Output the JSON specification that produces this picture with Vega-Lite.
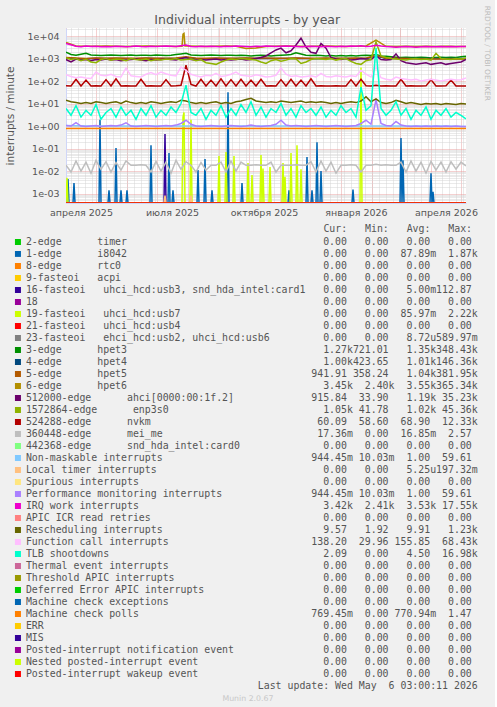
{
"$schema": "https://vega.github.io/schema/vega-lite/v6.json",
"background": "#F0F0F0",
"padding": {"left": 5, "top": 5, "right": 4, "bottom": 4},
"title": {"text": "Munin 2.0.67", "orient": "bottom", "anchor": "middle", "frame": "bounds", "font": "DejaVu Sans", "fontSize": 7.8, "fontWeight": "normal", "color": "#C8C8C8", "offset": 3},
"datasets": {"t": [
{"d":"2025-04-01","hpet3":1900,"hpet4":1050,"hpet5":1100,"hpet6":5200,"ahci":900,"enp3s0":1100,"nvkm":62,"mei":0.018,"nmi":1.05,"pmi":1.05,"iwi":4600,"res":14,"cal":190,"tlb":6,"mcp":0.78,"timer":0,"i8042":0,"rtc0":0,"acpi":0,"usb3":0,"irq18":0,"usb7":0,"usb4":0,"usb2":0,"card0":0,"loc":0,"spu":0,"rtr":0,"trm":0,"thr":0,"dfr":0,"mce":0,"err":0,"mis":0,"pin":0,"npi":0,"piw":0},
{"d":"2025-04-06","hpet3":1500,"ahci":700,"enp3s0":900,"nvkm":60,"mei":0.009,"pmi":1.0,"iwi":4100,"res":12,"cal":160,"tlb":3},
{"d":"2025-04-11","hpet3":1400,"hpet4":1000,"hpet5":1050,"hpet6":3600,"ahci":950,"enp3s0":1000,"nvkm":120,"mei":0.028,"pmi":1.4,"iwi":3500,"res":11,"cal":140,"tlb":8},
{"d":"2025-04-16","hpet3":1550,"ahci":850,"enp3s0":800,"nvkm":60,"mei":0.01,"pmi":1.0,"iwi":3300,"res":10,"cal":150,"tlb":2.5},
{"d":"2025-04-21","hpet3":1700,"hpet4":980,"hpet5":1000,"hpet6":3500,"nmi":1.0,"ahci":900,"enp3s0":950,"nvkm":110,"mei":0.025,"pmi":0.95,"iwi":3600,"res":11,"cal":135,"tlb":5},
{"d":"2025-04-26","hpet3":1450,"ahci":800,"enp3s0":700,"nvkm":60,"mei":0.008,"pmi":1.0,"iwi":3400,"res":10,"cal":130,"tlb":3},
{"d":"2025-05-01","hpet3":1400,"hpet4":1020,"hpet5":1060,"hpet6":3500,"ahci":900,"enp3s0":650,"nvkm":61,"mei":0.03,"pmi":1.05,"iwi":3500,"res":12,"cal":250,"tlb":9},
{"d":"2025-05-06","hpet3":1350,"ahci":850,"enp3s0":900,"nvkm":60,"mei":0.012,"pmi":0.95,"iwi":3300,"res":11,"cal":180,"tlb":2},
{"d":"2025-05-11","hpet3":1400,"hpet4":990,"hpet5":1030,"hpet6":3600,"nmi":1.0,"ahci":950,"enp3s0":1000,"nvkm":115,"mei":0.026,"pmi":1.0,"iwi":3400,"res":10,"cal":170,"tlb":4},
{"d":"2025-05-16","hpet3":1450,"ahci":850,"enp3s0":850,"nvkm":60,"mei":0.009,"pmi":1.05,"iwi":3300,"res":11,"cal":200,"tlb":6},
{"d":"2025-05-21","hpet3":1400,"hpet4":1010,"hpet5":1050,"hpet6":3500,"mcp":0.78,"ahci":900,"enp3s0":950,"nvkm":125,"mei":0.024,"pmi":1.0,"iwi":3500,"res":12,"cal":160,"tlb":2.5},
{"d":"2025-05-26","hpet3":1350,"ahci":800,"enp3s0":900,"nvkm":60,"mei":0.011,"pmi":1.1,"iwi":3400,"res":10,"cal":150,"tlb":7},
{"d":"2025-05-31","hpet3":1400,"hpet4":1000,"hpet5":1040,"hpet6":3400,"nmi":1.0,"ahci":850,"enp3s0":800,"nvkm":61,"mei":0.028,"pmi":1.4,"iwi":3300,"res":13,"cal":380,"tlb":3},
{"d":"2025-06-05","hpet3":1450,"ahci":900,"enp3s0":1000,"nvkm":60,"mei":0.018,"pmi":1.0,"iwi":3400,"res":11,"cal":170,"tlb":5},
{"d":"2025-06-10","hpet3":1350,"hpet4":980,"hpet5":1020,"hpet6":3500,"ahci":950,"enp3s0":900,"nvkm":60,"mei":0.018,"pmi":0.95,"iwi":3600,"res":10,"cal":160,"tlb":2},
{"d":"2025-06-15","hpet3":1400,"ahci":850,"enp3s0":850,"nvkm":120,"mei":0.019,"pmi":1.0,"iwi":3400,"res":11,"cal":150,"tlb":6},
{"d":"2025-06-20","hpet3":1400,"hpet4":1020,"hpet5":1060,"hpet6":3600,"nmi":1.0,"ahci":800,"enp3s0":950,"nvkm":60,"mei":0.018,"pmi":1.05,"iwi":3300,"res":10,"cal":200,"tlb":3},
{"d":"2025-06-25","hpet3":1350,"ahci":900,"enp3s0":800,"nvkm":61,"mei":0.009,"pmi":1.0,"iwi":3500,"res":12,"cal":240,"tlb":8},
{"d":"2025-06-30","hpet3":1450,"hpet4":1000,"hpet5":1040,"hpet6":3500,"ahci":850,"enp3s0":900,"nvkm":60,"mei":0.027,"pmi":0.95,"iwi":3400,"res":11,"cal":190,"tlb":2.5},
{"d":"2025-07-05","hpet3":1400,"ahci":900,"enp3s0":850,"nvkm":60,"mei":0.01,"pmi":1.0,"iwi":3500,"res":10,"cal":250,"tlb":5},
{"d":"2025-07-10","hpet3":1350,"hpet4":990,"hpet5":1030,"hpet6":3500,"nmi":1.0,"mcp":0.78,"ahci":950,"enp3s0":950,"nvkm":115,"mei":0.025,"pmi":1.05,"iwi":3600,"res":11,"cal":210,"tlb":3},
{"d":"2025-07-15","hpet3":1400,"ahci":900,"enp3s0":900,"nvkm":60,"mei":0.008,"pmi":1.0,"iwi":3500,"res":12,"cal":180,"tlb":7},
{"d":"2025-07-20","hpet3":1500,"hpet4":1010,"hpet5":1050,"hpet6":3400,"ahci":850,"enp3s0":1000,"nvkm":61,"mei":0.03,"pmi":1.1,"iwi":3400,"res":11,"cal":170,"tlb":4},
{"d":"2025-07-25","hpet3":1600,"ahci":1000,"enp3s0":850,"nvkm":65,"mei":0.012,"pmi":1.3,"iwi":3700,"res":14,"cal":420,"tlb":10},
{"d":"2025-07-30","hpet3":1700,"hpet4":1100,"hpet5":1200,"hpet6":3600,"nmi":1.0,"ahci":1100,"enp3s0":900,"nvkm":500,"mei":0.026,"pmi":1.8,"iwi":4000,"res":13,"cal":300,"tlb":66},
{"d":"2025-08-04","hpet3":1450,"ahci":900,"enp3s0":950,"nvkm":70,"mei":0.018,"pmi":1.2,"iwi":3400,"res":11,"cal":200,"tlb":4},
{"d":"2025-08-09","hpet3":1400,"hpet4":1000,"hpet5":1040,"hpet6":3500,"ahci":850,"enp3s0":800,"nvkm":60,"mei":0.009,"pmi":1.0,"iwi":3300,"res":10,"cal":170,"tlb":3},
{"d":"2025-08-14","hpet3":1350,"ahci":900,"enp3s0":900,"nvkm":120,"mei":0.024,"pmi":0.95,"iwi":3500,"res":11,"cal":150,"tlb":6},
{"d":"2025-08-19","hpet3":1400,"hpet4":980,"hpet5":1020,"hpet6":3400,"nmi":1.0,"ahci":850,"enp3s0":650,"nvkm":60,"mei":0.011,"pmi":1.0,"iwi":3400,"res":10,"cal":180,"tlb":2},
{"d":"2025-08-24","hpet3":1450,"ahci":900,"enp3s0":600,"nvkm":110,"mei":0.018,"pmi":1.05,"iwi":3500,"res":11,"cal":170,"tlb":5},
{"d":"2025-08-29","hpet3":1400,"hpet4":1010,"hpet5":1050,"hpet6":3500,"mcp":0.78,"ahci":950,"enp3s0":550,"nvkm":60,"mei":0.018,"pmi":1.0,"iwi":3400,"res":12,"cal":220,"tlb":3},
{"d":"2025-09-03","hpet3":1350,"ahci":850,"enp3s0":700,"nvkm":125,"mei":0.025,"pmi":0.95,"iwi":3300,"res":10,"cal":160,"tlb":8},
{"d":"2025-09-08","hpet3":1400,"hpet4":1000,"hpet5":1040,"hpet6":3600,"nmi":1.0,"ahci":900,"enp3s0":850,"nvkm":60,"mei":0.009,"pmi":1.0,"iwi":3500,"res":11,"cal":170,"tlb":2.5},
{"d":"2025-09-13","hpet3":1400,"ahci":850,"enp3s0":950,"nvkm":115,"mei":0.028,"pmi":1.05,"iwi":3400,"res":10,"cal":200,"tlb":6},
{"d":"2025-09-18","hpet3":1350,"hpet4":990,"hpet5":1030,"hpet6":3500,"ahci":900,"enp3s0":900,"nvkm":60,"mei":0.01,"pmi":1.0,"iwi":3600,"res":12,"cal":250,"tlb":3},
{"d":"2025-09-23","hpet3":1400,"ahci":950,"enp3s0":1000,"nvkm":120,"mei":0.025,"pmi":0.95,"iwi":3500,"res":13,"cal":180,"tlb":9},
{"d":"2025-09-28","hpet3":1350,"hpet4":1020,"hpet5":1060,"hpet6":2800,"nmi":1.0,"ahci":850,"enp3s0":950,"nvkm":60,"mei":0.018,"pmi":1.0,"iwi":3400,"res":15,"cal":170,"tlb":4},
{"d":"2025-10-03","hpet3":1300,"ahci":900,"enp3s0":900,"nvkm":110,"mei":0.018,"pmi":1.1,"iwi":3300,"res":17,"cal":160,"tlb":12},
{"d":"2025-10-08","hpet3":1350,"hpet4":1000,"hpet5":1040,"hpet6":2900,"ahci":1000,"enp3s0":850,"nvkm":60,"mei":0.019,"pmi":1.0,"iwi":3500,"res":13,"cal":190,"tlb":3},
{"d":"2025-10-13","hpet3":1400,"ahci":1100,"enp3s0":700,"nvkm":120,"mei":0.018,"pmi":0.95,"iwi":3400,"res":12,"cal":170,"tlb":7},
{"d":"2025-10-18","hpet3":1350,"hpet4":1010,"hpet5":1050,"hpet6":3400,"nmi":1.0,"mcp":0.78,"ahci":1300,"enp3s0":600,"nvkm":60,"mei":0.018,"pmi":1.0,"iwi":3600,"res":11,"cal":150,"tlb":2.5},
{"d":"2025-10-23","hpet3":1300,"ahci":1800,"enp3s0":800,"nvkm":61,"mei":0.025,"pmi":1.05,"iwi":3500,"res":12,"cal":160,"tlb":6},
{"d":"2025-10-28","hpet3":1350,"hpet4":1000,"hpet5":1040,"hpet6":3500,"ahci":2400,"enp3s0":900,"nvkm":60,"mei":0.009,"pmi":1.2,"iwi":3400,"res":11,"cal":180,"tlb":4},
{"d":"2025-11-02","hpet3":1400,"ahci":2900,"enp3s0":750,"nvkm":115,"mei":0.018,"pmi":1.8,"iwi":3500,"res":13,"cal":380,"tlb":10},
{"d":"2025-11-07","hpet3":1450,"hpet4":990,"hpet5":1030,"hpet6":3600,"nmi":1.0,"ahci":1800,"enp3s0":850,"nvkm":60,"mei":0.018,"pmi":1.1,"iwi":3600,"res":12,"cal":200,"tlb":3},
{"d":"2025-11-12","hpet3":1500,"ahci":2200,"enp3s0":1000,"nvkm":120,"mei":0.018,"pmi":1.0,"iwi":3500,"res":11,"cal":160,"tlb":6},
{"d":"2025-11-17","hpet3":1800,"hpet4":1020,"hpet5":1060,"hpet6":3500,"ahci":4000,"enp3s0":950,"nvkm":60,"mei":0.019,"pmi":1.05,"iwi":3400,"res":12,"cal":170,"tlb":2.5},
{"d":"2025-11-22","hpet3":1600,"ahci":8000,"enp3s0":600,"nvkm":110,"mei":0.018,"pmi":1.0,"iwi":3300,"res":13,"cal":150,"tlb":8},
{"d":"2025-11-27","hpet3":1400,"hpet4":1000,"hpet5":1040,"hpet6":3400,"nmi":1.0,"ahci":3200,"enp3s0":700,"nvkm":60,"mei":0.018,"pmi":0.95,"iwi":3400,"res":11,"cal":160,"tlb":4},
{"d":"2025-12-02","hpet3":1350,"ahci":1900,"enp3s0":900,"nvkm":125,"mei":0.026,"pmi":1.0,"iwi":3500,"res":12,"cal":170,"tlb":6},
{"d":"2025-12-07","hpet3":1400,"hpet4":980,"hpet5":1020,"hpet6":3500,"mcp":0.78,"ahci":1700,"enp3s0":1000,"nvkm":60,"mei":0.009,"pmi":1.05,"iwi":3400,"res":11,"cal":150,"tlb":3},
{"d":"2025-12-12","hpet3":1350,"ahci":4700,"enp3s0":950,"nvkm":61,"mei":0.028,"pmi":1.0,"iwi":3300,"res":12,"cal":220,"tlb":7},
{"d":"2025-12-17","hpet3":1300,"hpet4":1010,"hpet5":1050,"hpet6":3600,"nmi":1.0,"ahci":2900,"enp3s0":900,"nvkm":60,"mei":0.01,"pmi":0.95,"iwi":3500,"res":11,"cal":160,"tlb":2.5},
{"d":"2025-12-22","hpet3":1350,"ahci":1100,"enp3s0":1000,"nvkm":60,"mei":0.025,"pmi":1.0,"iwi":3400,"res":10,"cal":150,"tlb":5},
{"d":"2025-12-27","hpet3":1300,"hpet4":1000,"hpet5":1040,"hpet6":3500,"ahci":950,"enp3s0":850,"nvkm":61,"mei":0.008,"pmi":1.05,"iwi":3300,"res":11,"cal":170,"tlb":3},
{"d":"2026-01-01","hpet3":1350,"ahci":900,"enp3s0":950,"nvkm":60,"mei":0.018,"pmi":1.0,"iwi":3500,"res":10,"cal":160,"tlb":8},
{"d":"2026-01-06","hpet3":1300,"hpet4":990,"hpet5":1030,"hpet6":3400,"nmi":1.0,"ahci":1000,"enp3s0":1000,"nvkm":60,"mei":0.018,"pmi":0.95,"iwi":3400,"res":11,"cal":150,"tlb":4},
{"d":"2026-01-11","hpet3":1350,"ahci":850,"enp3s0":750,"nvkm":115,"mei":0.019,"pmi":1.0,"iwi":3600,"res":12,"cal":170,"tlb":6},
{"d":"2026-01-16","hpet3":1300,"hpet4":1010,"hpet5":1050,"hpet6":3500,"ahci":900,"enp3s0":600,"nvkm":60,"mei":0.018,"pmi":1.05,"iwi":3500,"res":11,"cal":160,"tlb":2.5},
{"d":"2026-01-21","hpet3":1350,"ahci":1000,"enp3s0":550,"nvkm":120,"mei":0.009,"pmi":1.3,"iwi":3700,"res":13,"cal":300,"tlb":54},
{"d":"2026-01-26","hpet3":1400,"hpet4":1000,"hpet5":1040,"hpet6":3600,"nmi":1.0,"mcp":0.78,"ahci":950,"enp3s0":800,"nvkm":62,"mei":0.018,"pmi":1.8,"iwi":3400,"res":20,"cal":200,"tlb":5},
{"d":"2026-01-31","hpet3":1350,"ahci":900,"enp3s0":900,"nvkm":60,"mei":0.018,"pmi":1.2,"iwi":3500,"res":12,"cal":150,"tlb":8},
{"d":"2026-02-05","hpet3":1500,"hpet4":1300,"hpet5":1400,"hpet6":6500,"ahci":1300,"enp3s0":5400,"nvkm":65,"mei":0.02,"pmi":15,"iwi":3900,"res":16,"cal":420,"tlb":3000},
{"d":"2026-02-10","hpet3":1300,"ahci":900,"enp3s0":1300,"nvkm":60,"mei":0.018,"pmi":1.3,"iwi":3600,"res":11,"cal":140,"tlb":6},
{"d":"2026-02-15","hpet3":1250,"hpet4":1000,"hpet5":1040,"hpet6":3500,"nmi":1.0,"ahci":850,"enp3s0":1100,"nvkm":61,"mei":0.019,"pmi":1.05,"iwi":3400,"res":10,"cal":120,"tlb":3},
{"d":"2026-02-20","hpet3":1200,"ahci":900,"enp3s0":1000,"nvkm":60,"mei":0.018,"pmi":1.0,"iwi":3300,"res":11,"cal":110,"tlb":5},
{"d":"2026-02-25","hpet3":1150,"hpet4":990,"hpet5":1030,"hpet6":3400,"ahci":1600,"enp3s0":950,"nvkm":60,"mei":0.018,"pmi":1.6,"iwi":3200,"res":14,"cal":150,"tlb":12},
{"d":"2026-03-02","hpet3":1100,"ahci":800,"enp3s0":900,"nvkm":120,"mei":0.025,"pmi":1.1,"iwi":3300,"res":12,"cal":130,"tlb":3},
{"d":"2026-03-07","hpet3":1150,"hpet4":1000,"hpet5":1000,"hpet6":3500,"nmi":1.0,"ahci":650,"enp3s0":850,"nvkm":60,"mei":0.009,"pmi":1.0,"iwi":3400,"res":10,"cal":120,"tlb":6},
{"d":"2026-03-12","hpet3":1100,"ahci":600,"enp3s0":950,"nvkm":61,"mei":0.028,"pmi":0.95,"iwi":3300,"res":11,"cal":110,"tlb":2},
{"d":"2026-03-17","hpet3":1100,"hpet4":1010,"hpet5":980,"hpet6":3400,"mcp":0.78,"ahci":550,"enp3s0":1000,"nvkm":60,"mei":0.01,"pmi":1.0,"iwi":3200,"res":10,"cal":120,"tlb":5},
{"d":"2026-03-22","hpet3":1150,"ahci":600,"enp3s0":900,"nvkm":60,"mei":0.025,"pmi":0.95,"iwi":3300,"res":9,"cal":100,"tlb":3},
{"d":"2026-03-27","hpet3":1100,"hpet4":990,"hpet5":960,"hpet6":3500,"nmi":1.0,"ahci":650,"enp3s0":950,"nvkm":61,"mei":0.008,"pmi":1.0,"iwi":3400,"res":10,"cal":110,"tlb":7},
{"d":"2026-04-01","hpet3":1050,"ahci":550,"enp3s0":850,"nvkm":115,"mei":0.027,"pmi":0.95,"iwi":3300,"res":9.5,"cal":120,"tlb":2},
{"d":"2026-04-06","hpet3":1100,"hpet4":1000,"hpet5":950,"hpet6":3400,"ahci":600,"enp3s0":1700,"nvkm":60,"mei":0.011,"pmi":1.0,"iwi":3300,"res":10,"cal":110,"tlb":5},
{"d":"2026-04-11","hpet3":1150,"ahci":650,"enp3s0":1000,"nvkm":60,"mei":0.025,"pmi":0.95,"iwi":3400,"res":9,"cal":100,"tlb":3},
{"d":"2026-04-16","hpet3":1100,"hpet4":1010,"hpet5":940,"hpet6":3500,"nmi":1.0,"ahci":550,"enp3s0":950,"nvkm":61,"mei":0.009,"pmi":1.0,"iwi":3300,"res":10,"cal":110,"tlb":6},
{"d":"2026-04-21","hpet3":1150,"ahci":600,"enp3s0":900,"nvkm":110,"mei":0.026,"pmi":0.95,"iwi":3400,"res":9.5,"cal":120,"tlb":2.5},
{"d":"2026-04-26","hpet3":1100,"hpet4":990,"hpet5":950,"hpet6":3400,"ahci":650,"enp3s0":1000,"nvkm":60,"mei":0.012,"pmi":1.0,"iwi":3300,"res":9,"cal":110,"tlb":4},
{"d":"2026-05-01","hpet3":1200,"ahci":700,"enp3s0":950,"nvkm":60,"mei":0.025,"pmi":0.95,"iwi":3400,"res":10,"cal":115,"tlb":3},
{"d":"2026-05-06","hpet3":1270,"hpet4":1000,"hpet5":942,"hpet6":3450,"nmi":0.944,"mcp":0.769,"ahci":916,"enp3s0":1050,"nvkm":60,"mei":0.017,"pmi":0.944,"iwi":3420,"res":9.6,"cal":138,"tlb":2.09,"timer":0,"i8042":0,"rtc0":0,"acpi":0,"usb3":0,"irq18":0,"usb7":0,"usb4":0,"usb2":0,"card0":0,"loc":0,"spu":0,"rtr":0,"trm":0,"thr":0,"dfr":0,"mce":0,"err":0,"mis":0,"pin":0,"npi":0,"piw":0},
{"d":"2025-07-26","hpet6":3500,"usb7":0},
{"d":"2025-07-27","hpet6":12000,"usb7":2.5},
{"d":"2025-07-28","hpet6":13000,"usb7":4},
{"d":"2025-07-29","hpet6":3600,"usb7":0},
{"d":"2025-04-02","i8042":0,"usb7":0.005},
{"d":"2025-04-03","i8042":0.0044,"usb7":0},
{"d":"2025-04-04","i8042":0},
{"d":"2025-04-08","i8042":0},
{"d":"2025-04-09","i8042":0.0029},
{"d":"2025-04-10","i8042":0},
{"d":"2025-05-04","i8042":0},
{"d":"2025-05-05","i8042":1.9},
{"d":"2025-05-06","i8042":0},
{"d":"2025-05-13","i8042":0},
{"d":"2025-05-14","i8042":0.0014},
{"d":"2025-05-15","i8042":0},
{"d":"2025-05-20","i8042":0},
{"d":"2025-05-21","i8042":0.105},
{"d":"2025-05-22","i8042":0},
{"d":"2025-05-25","i8042":0},
{"d":"2025-05-26","i8042":0.0014},
{"d":"2025-05-27","i8042":0},
{"d":"2025-05-31","i8042":0},
{"d":"2025-06-01","i8042":0.0014},
{"d":"2025-06-02","i8042":0},
{"d":"2025-06-24","i8042":0},
{"d":"2025-06-25","i8042":0.14},
{"d":"2025-06-26","i8042":0},
{"d":"2025-07-08","usb3":0,"loc":0},
{"d":"2025-07-09","usb3":0.44,"loc":0.0008},
{"d":"2025-07-10","usb3":0,"loc":0},
{"d":"2025-07-12","i8042":0},
{"d":"2025-07-13","i8042":0.063},
{"d":"2025-07-14","i8042":0},
{"d":"2025-07-16","i8042":0},
{"d":"2025-07-17","i8042":0.0014},
{"d":"2025-07-18","i8042":0},
{"d":"2025-08-03","usb7":0,"loc":0},
{"d":"2025-08-04","usb7":1.9,"loc":0.0008},
{"d":"2025-08-05","usb7":0,"loc":0},
{"d":"2025-08-10","i8042":0},
{"d":"2025-08-11","i8042":0.011},
{"d":"2025-08-12","i8042":0},
{"d":"2025-08-17","i8042":0},
{"d":"2025-08-18","i8042":0.034},
{"d":"2025-08-19","i8042":0},
{"d":"2025-08-24","i8042":0},
{"d":"2025-08-25","i8042":0.0014},
{"d":"2025-08-26","i8042":0},
{"d":"2025-08-31","usb7":0},
{"d":"2025-09-01","usb7":0.046},
{"d":"2025-09-02","usb7":0},
{"d":"2025-09-07","usb7":0},
{"d":"2025-09-08","usb7":0.07},
{"d":"2025-09-09","usb7":0,"i8042":0},
{"d":"2025-09-10","i8042":32},
{"d":"2025-09-11","i8042":0},
{"d":"2025-09-15","usb7":0},
{"d":"2025-09-16","usb7":0.046},
{"d":"2025-09-17","usb7":0},
{"d":"2025-09-23","i8042":0},
{"d":"2025-09-24","i8042":0.0029},
{"d":"2025-09-25","i8042":0},
{"d":"2025-09-29","usb7":0},
{"d":"2025-09-30","usb7":0.023},
{"d":"2025-10-01","usb7":0},
{"d":"2025-10-03","usb7":0},
{"d":"2025-10-04","usb7":0.0066},
{"d":"2025-10-05","usb7":0},
{"d":"2025-10-12","usb7":0},
{"d":"2025-10-13","usb7":0.052},
{"d":"2025-10-14","usb7":0},
{"d":"2025-10-15","usb7":0.013},
{"d":"2025-10-16","usb7":0},
{"d":"2025-10-21","usb7":0},
{"d":"2025-10-22","usb7":0.015},
{"d":"2025-10-23","usb7":0},
{"d":"2025-11-03","usb7":0},
{"d":"2025-11-04","usb7":0.023},
{"d":"2025-11-05","usb7":0},
{"d":"2025-11-06","usb7":0.0055},
{"d":"2025-11-07","usb7":0},
{"d":"2025-11-09","i8042":0},
{"d":"2025-11-10","i8042":0.0014},
{"d":"2025-11-11","i8042":0,"usb7":0},
{"d":"2025-11-12","usb7":0.063},
{"d":"2025-11-13","usb7":0},
{"d":"2025-11-17","usb7":0},
{"d":"2025-11-18","usb7":0.14},
{"d":"2025-11-19","usb7":0},
{"d":"2025-11-21","usb7":0},
{"d":"2025-11-22","usb7":0.012},
{"d":"2025-11-23","usb7":0},
{"d":"2025-11-27","i8042":0},
{"d":"2025-11-28","i8042":0.042},
{"d":"2025-11-29","i8042":0},
{"d":"2025-12-02","i8042":0},
{"d":"2025-12-03","i8042":0.0014},
{"d":"2025-12-04","i8042":0},
{"d":"2025-12-07","i8042":0},
{"d":"2025-12-08","i8042":0.19},
{"d":"2025-12-09","i8042":0},
{"d":"2025-12-11","i8042":0},
{"d":"2025-12-12","i8042":0.01},
{"d":"2025-12-13","i8042":0},
{"d":"2026-01-12","i8042":0},
{"d":"2026-01-13","i8042":0.0015},
{"d":"2026-01-14","i8042":0},
{"d":"2026-01-20","usb7":0},
{"d":"2026-01-21","usb7":400},
{"d":"2026-01-22","usb7":0},
{"d":"2026-03-01","i8042":0},
{"d":"2026-03-02","i8042":0.29},
{"d":"2026-03-03","i8042":0},
{"d":"2026-03-04","i8042":0.03},
{"d":"2026-03-05","i8042":0},
{"d":"2026-03-31","i8042":0},
{"d":"2026-04-01","i8042":0.008},
{"d":"2026-04-02","i8042":0},
{"d":"2026-04-03","i8042":0.0012},
{"d":"2026-04-04","i8042":0}
]},
"vconcat": [{
  "title": {"text": "RRDTOOL / TOBI OETIKER", "orient": "right", "anchor": "start", "frame": "bounds", "font": "DejaVu Sans", "fontSize": 7.4, "fontWeight": "normal", "color": "#BBBBBB", "offset": 6, "dx": -8},
  "vconcat": [{
    "width": 400,
    "height": 175,
    "title": {"text": "Individual interrupts - by year", "orient": "top", "anchor": "middle", "frame": "bounds", "font": "DejaVu Sans", "fontSize": 12.5, "fontWeight": "normal", "color": "#555555", "offset": -2, "dx": 6},
    "data": {"name": "t"},
    "transform": [
      {"fold": ["timer","i8042","rtc0","acpi","usb3","irq18","usb7","usb4","usb2","hpet3","hpet4","hpet5","hpet6","ahci","enp3s0","nvkm","mei","card0","nmi","loc","spu","pmi","iwi","rtr","res","cal","tlb","trm","thr","dfr","mce","mcp","err","mis","pin","npi","piw"], "as": ["k", "v"]},
      {"filter": "isValid(datum.v)"}
    ],
    "layer": [
      {
        "transform": [{"filter": "datum.k == 'iwi'"}],
        "mark": {"type": "rule", "opacity": 0},
        "encoding": {
          "x": {"field": "d", "type": "temporal", "axis": {"orient": "bottom", "tickCount": {"interval": "week", "step": 1}, "grid": true, "gridColor": "#D4D4D4", "gridDash": [1, 1], "labels": false, "ticks": false, "domain": false, "title": null}}
        }
      },
      {
        "mark": {"type": "line", "strokeWidth": 1.5, "clip": true, "invalid": "show"},
        "encoding": {
          "x": {"field": "d", "type": "temporal",
            "scale": {"type": "utc", "domain": [{"year": 2025, "month": 4, "date": 1, "utc": true}, {"year": 2026, "month": 5, "date": 6, "utc": true}]},
            "axis": {
              "orient": "bottom",
              "values": [{"year":2025,"month":4,"date":1,"utc":true},{"year":2025,"month":5,"date":1,"utc":true},{"year":2025,"month":6,"date":1,"utc":true},{"year":2025,"month":7,"date":1,"utc":true},{"year":2025,"month":8,"date":1,"utc":true},{"year":2025,"month":9,"date":1,"utc":true},{"year":2025,"month":10,"date":1,"utc":true},{"year":2025,"month":11,"date":1,"utc":true},{"year":2025,"month":12,"date":1,"utc":true},{"year":2026,"month":1,"date":1,"utc":true},{"year":2026,"month":2,"date":1,"utc":true},{"year":2026,"month":3,"date":1,"utc":true},{"year":2026,"month":4,"date":1,"utc":true},{"year":2026,"month":5,"date":1,"utc":true}],
              "labelExpr": "utcmonth(datum.value) % 3 == 0 ? ['января','февраля','марта','апреля','мая','июня','июля','августа','сентября','октября','ноября','декабря'][utcmonth(datum.value)] + ' ' + utcyear(datum.value) : ''",
              "labelOffset": 15, "labelOverlap": false, "labelFlush": false, "labelPadding": 4, "labelAlign": "center", "labelBaseline": "top",
              "grid": true, "gridColor": "#E8A0A0", "gridDash": [1, 1], "ticks": false, "title": null, "domainColor": "#CFD6F8"
            }
          },
          "y": {"field": "v", "type": "quantitative",
            "scale": {"type": "log", "domain": [0.00038, 22700], "nice": false, "clamp": true},
            "axis": {
              "values": [0.0004,0.0005,0.0006,0.0007,0.0008,0.0009,0.001,0.002,0.003,0.004,0.005,0.006,0.007,0.008,0.009,0.01,0.02,0.03,0.04,0.05,0.06,0.07,0.08,0.09,0.1,0.2,0.3,0.4,0.5,0.6,0.7,0.8,0.9,1,2,3,4,5,6,7,8,9,10,20,30,40,50,60,70,80,90,100,200,300,400,500,600,700,800,900,1000,2000,3000,4000,5000,6000,7000,8000,9000,10000,20000],
              "labelExpr": "abs(log(datum.value)/LN10 - round(log(datum.value)/LN10)) < 0.01 ? '1e' + (round(log(datum.value)/LN10) < 0 ? '-' : '+') + (abs(round(log(datum.value)/LN10)) < 10 ? '0' : '') + abs(round(log(datum.value)/LN10)) : ''",
              "labelOverlap": false, "labelFlush": false, "labelPadding": 7,
              "grid": true,
              "gridColor": {"condition": {"test": "abs(log(datum.value)/LN10 - round(log(datum.value)/LN10)) < 0.01", "value": "#E8A0A0"}, "value": "#D4D4D4"},
              "gridDash": [1, 1], "ticks": false,
              "title": "interrupts / minute", "titlePadding": 12, "domainColor": "#CFD6F8"
            }
          },
          "color": {"field": "k", "type": "nominal",
            "scale": {
              "domain": ["timer","i8042","rtc0","acpi","usb3","irq18","usb7","usb4","usb2","hpet3","hpet4","hpet5","hpet6","ahci","enp3s0","nvkm","mei","card0","nmi","loc","spu","pmi","iwi","rtr","res","cal","tlb","trm","thr","dfr","mce","mcp","err","mis","pin","npi","piw","zlast"],
              "range": ["#00CC00","#0066B3","#FF8000","#FFCC00","#330099","#990099","#CCFF00","#FF0000","#808080","#008F00","#00487D","#B35A00","#B38F00","#6B006B","#8FB300","#B30000","#BEBEBE","#80FF80","#80C9FF","#FFC080","#FFE680","#AA80FF","#EE00CC","#FF8080","#666600","#FFBFFF","#00FFCC","#CC6699","#999900","#00CC00","#0066B3","#FF8000","#FFCC00","#330099","#990099","#CCFF00","#FF0000","transparent"]
            },
            "legend": {
              "orient": "none", "legendX": -53, "legendY": 196,
              "direction": "vertical", "columns": 1, "symbolLimit": 50,
              "title": "Cur:\u00a0\u00a0\u00a0Min:\u00a0\u00a0\u00a0Avg:\u00a0\u00a0\u00a0Max:\u00a0\u200b",
              "titleAnchor": "end", "titleAlign": "right",
              "titleFont": "DejaVu Sans Mono", "titleFontSize": 9.9, "titleFontWeight": "normal", "titleColor": "#555555", "titlePadding": 2,
              "labelFont": "DejaVu Sans Mono", "labelFontSize": 9.9, "labelColor": "#555555", "labelLimit": 1000, "labelOffset": 3,
              "symbolType": "square", "symbolSize": 9, "symbolStrokeWidth": 3, "symbolOpacity": 1,
              "rowPadding": 0, "clipHeight": 12,
              "labelExpr": "datum.label == 'zlast' ? '\u200b' + replace('                                       Last update: Wed May  6 03:00:11 2026', regexp(' ', 'g'), '\u00a0') : replace(pad(({'timer':'2-edge      timer','i8042':'1-edge      i8042','rtc0':'8-edge      rtc0','acpi':'9-fasteoi   acpi','usb3':'16-fasteoi   uhci_hcd:usb3, snd_hda_intel:card1','irq18':'18','usb7':'19-fasteoi   uhci_hcd:usb7','usb4':'21-fasteoi   uhci_hcd:usb4','usb2':'23-fasteoi   ehci_hcd:usb2, uhci_hcd:usb6','hpet3':'3-edge      hpet3','hpet4':'4-edge      hpet4','hpet5':'5-edge      hpet5','hpet6':'6-edge      hpet6','ahci':'512000-edge      ahci[0000:00:1f.2]','enp3s0':'1572864-edge      enp3s0','nvkm':'524288-edge      nvkm','mei':'360448-edge      mei_me','card0':'442368-edge      snd_hda_intel:card0','nmi':'Non-maskable interrupts','loc':'Local timer interrupts','spu':'Spurious interrupts','pmi':'Performance monitoring interrupts','iwi':'IRQ work interrupts','rtr':'APIC ICR read retries','res':'Rescheduling interrupts','cal':'Function call interrupts','tlb':'TLB shootdowns','trm':'Thermal event interrupts','thr':'Threshold APIC interrupts','dfr':'Deferred Error APIC interrupts','mce':'Machine check exceptions','mcp':'Machine check polls','err':'ERR','mis':'MIS','pin':'Posted-interrupt notification event','npi':'Nested posted-interrupt event','piw':'Posted-interrupt wakeup event'})[datum.label], 48) + (({'i8042':'  0.00   0.00  87.89m  1.87k','usb3':'  0.00   0.00   5.00m112.87 ','usb7':'  0.00   0.00  85.97m  2.22k','usb2':'  0.00   0.00   8.72u589.97m','hpet3':'  1.27k721.01   1.35k348.43k','hpet4':'  1.00k423.65   1.01k146.36k','hpet5':'941.91 358.24   1.04k381.95k','hpet6':'  3.45k  2.40k  3.55k365.34k','ahci':'915.84  33.90   1.19k 35.23k','enp3s0':'  1.05k 41.78   1.02k 45.36k','nvkm':' 60.09  58.60  68.90  12.33k','mei':' 17.36m  0.00  16.85m  2.57 ','nmi':'944.45m 10.03m  1.00  59.61 ','loc':'  0.00   0.00   5.25u197.32m','pmi':'944.45m 10.03m  1.00  59.61 ','iwi':'  3.42k  2.41k  3.53k 17.55k','res':'  9.57   1.92   9.91   1.23k','cal':'138.20  29.96 155.85  68.43k','tlb':'  2.09   0.00   4.50  16.98k','mcp':'769.45m  0.00 770.94m  1.47 '})[datum.label] || '  0.00   0.00   0.00   0.00 '), regexp(' ', 'g'), '\u00a0')"
            }
          }
        }
      }
    ],
    "resolve": {"axis": {"x": "independent"}}
  }]
}],
"config": {
  "view": {"fill": "#FFFFFF", "stroke": null},
  "concat": {"spacing": 0},
  "axis": {"labelFont": "DejaVu Sans", "labelFontSize": 9.5, "labelColor": "#555555", "titleFont": "DejaVu Sans", "titleFontSize": 10.5, "titleFontWeight": "normal", "titleColor": "#555555", "domainColor": "#CFD6F8", "ticks": false}
}
}
